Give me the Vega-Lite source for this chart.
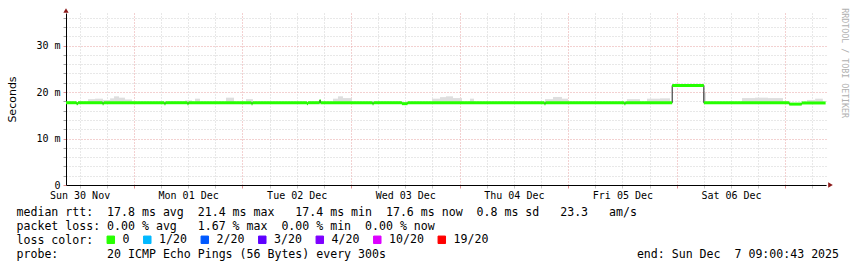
{
  "$schema": "https://vega.github.io/schema/vega-lite/v6.json",
  "width": 760,
  "height": 172,
  "autosize": {"type": "none"},
  "padding": {"left": 66, "top": 13, "right": 31, "bottom": 82},
  "background": "white",
  "config": {
    "view": {"stroke": null},
    "axis": {"labelFont": "DejaVu Sans Mono", "labelFontSize": 10, "labelColor": "#000000", "domainColor": "#000000", "titleColor": "#000000"}
  },
  "title": {
    "text": "RRDTOOL / TOBI OETIKER",
    "orient": "right",
    "anchor": "start",
    "font": "DejaVu Sans Mono",
    "fontSize": 8.3,
    "fontWeight": "normal",
    "color": "#b0b0b0",
    "offset": 2
  },
  "datasets": {
    "segs": [
      {"start": "2025-11-30T09:00:00Z", "end": "2025-11-30T11:20:00Z", "rtt": 17.7, "loss": "0"},
      {"start": "2025-11-30T11:20:00Z", "end": "2025-11-30T11:40:00Z", "rtt": 17.5, "loss": "0"},
      {"start": "2025-11-30T11:40:00Z", "end": "2025-11-30T17:05:00Z", "rtt": 17.7, "loss": "0"},
      {"start": "2025-11-30T17:05:00Z", "end": "2025-11-30T17:20:00Z", "rtt": 17.5, "loss": "0"},
      {"start": "2025-11-30T17:20:00Z", "end": "2025-12-01T06:45:00Z", "rtt": 17.7, "loss": "0"},
      {"start": "2025-12-01T06:45:00Z", "end": "2025-12-01T07:00:00Z", "rtt": 17.5, "loss": "0"},
      {"start": "2025-12-01T07:00:00Z", "end": "2025-12-01T11:50:00Z", "rtt": 17.7, "loss": "0"},
      {"start": "2025-12-01T11:50:00Z", "end": "2025-12-01T12:05:00Z", "rtt": 17.5, "loss": "0"},
      {"start": "2025-12-01T12:05:00Z", "end": "2025-12-02T02:00:00Z", "rtt": 17.7, "loss": "0"},
      {"start": "2025-12-02T02:00:00Z", "end": "2025-12-02T02:15:00Z", "rtt": 17.5, "loss": "0"},
      {"start": "2025-12-02T02:15:00Z", "end": "2025-12-02T14:15:00Z", "rtt": 17.7, "loss": "0"},
      {"start": "2025-12-02T14:15:00Z", "end": "2025-12-02T14:30:00Z", "rtt": 17.5, "loss": "0"},
      {"start": "2025-12-02T14:30:00Z", "end": "2025-12-02T17:05:00Z", "rtt": 17.7, "loss": "0"},
      {"start": "2025-12-02T17:05:00Z", "end": "2025-12-02T17:15:00Z", "rtt": 18.2, "loss": "0"},
      {"start": "2025-12-02T17:15:00Z", "end": "2025-12-03T04:45:00Z", "rtt": 17.7, "loss": "0"},
      {"start": "2025-12-03T04:45:00Z", "end": "2025-12-03T05:00:00Z", "rtt": 17.5, "loss": "0"},
      {"start": "2025-12-03T05:00:00Z", "end": "2025-12-03T11:15:00Z", "rtt": 17.7, "loss": "0"},
      {"start": "2025-12-03T11:15:00Z", "end": "2025-12-03T12:30:00Z", "rtt": 17.5, "loss": "0"},
      {"start": "2025-12-03T12:30:00Z", "end": "2025-12-04T18:45:00Z", "rtt": 17.7, "loss": "0"},
      {"start": "2025-12-04T18:45:00Z", "end": "2025-12-04T19:00:00Z", "rtt": 17.5, "loss": "0"},
      {"start": "2025-12-04T19:00:00Z", "end": "2025-12-05T12:25:00Z", "rtt": 17.7, "loss": "0"},
      {"start": "2025-12-05T12:25:00Z", "end": "2025-12-05T12:40:00Z", "rtt": 17.5, "loss": "0"},
      {"start": "2025-12-05T12:40:00Z", "end": "2025-12-05T23:00:00Z", "rtt": 17.7, "loss": "0"},
      {"start": "2025-12-05T23:00:00Z", "end": "2025-12-06T06:00:00Z", "rtt": 21.4, "loss": "0"},
      {"start": "2025-12-06T06:00:00Z", "end": "2025-12-07T00:53:00Z", "rtt": 17.7, "loss": "0"},
      {"start": "2025-12-07T00:53:00Z", "end": "2025-12-07T03:38:00Z", "rtt": 17.4, "loss": "0"},
      {"start": "2025-12-07T03:38:00Z", "end": "2025-12-07T08:55:00Z", "rtt": 17.65, "loss": "0"}
    ],
    "smoke": [
      {"start": "2025-11-30T13:52:00Z", "end": "2025-11-30T15:25:00Z", "rtt": 17.6, "hi": 18.47},
      {"start": "2025-11-30T15:25:00Z", "end": "2025-11-30T17:11:00Z", "rtt": 17.6, "hi": 18.57},
      {"start": "2025-11-30T17:11:00Z", "end": "2025-11-30T18:44:00Z", "rtt": 17.6, "hi": 18.3},
      {"start": "2025-11-30T18:44:00Z", "end": "2025-11-30T19:37:00Z", "rtt": 17.6, "hi": 18.64},
      {"start": "2025-11-30T19:37:00Z", "end": "2025-11-30T20:43:00Z", "rtt": 17.6, "hi": 19.07},
      {"start": "2025-11-30T20:43:00Z", "end": "2025-11-30T22:02:00Z", "rtt": 17.6, "hi": 18.79},
      {"start": "2025-11-30T22:02:00Z", "end": "2025-11-30T23:35:00Z", "rtt": 17.6, "hi": 18.4},
      {"start": "2025-12-01T11:18:00Z", "end": "2025-12-01T12:51:00Z", "rtt": 17.6, "hi": 18.2},
      {"start": "2025-12-01T13:31:00Z", "end": "2025-12-01T14:37:00Z", "rtt": 17.6, "hi": 18.57},
      {"start": "2025-12-01T20:22:00Z", "end": "2025-12-01T22:08:00Z", "rtt": 17.6, "hi": 18.79},
      {"start": "2025-12-02T00:47:00Z", "end": "2025-12-02T02:20:00Z", "rtt": 17.6, "hi": 18.47},
      {"start": "2025-12-02T20:01:00Z", "end": "2025-12-02T21:07:00Z", "rtt": 17.6, "hi": 18.57},
      {"start": "2025-12-02T21:07:00Z", "end": "2025-12-02T22:14:00Z", "rtt": 17.6, "hi": 19.07},
      {"start": "2025-12-02T22:14:00Z", "end": "2025-12-03T00:13:00Z", "rtt": 17.6, "hi": 18.7},
      {"start": "2025-12-03T17:54:00Z", "end": "2025-12-03T19:40:00Z", "rtt": 17.6, "hi": 18.57},
      {"start": "2025-12-03T19:40:00Z", "end": "2025-12-03T21:00:00Z", "rtt": 17.6, "hi": 18.9},
      {"start": "2025-12-03T21:00:00Z", "end": "2025-12-03T22:33:00Z", "rtt": 17.6, "hi": 19.07},
      {"start": "2025-12-03T22:33:00Z", "end": "2025-12-04T00:32:00Z", "rtt": 17.6, "hi": 18.7},
      {"start": "2025-12-04T02:18:00Z", "end": "2025-12-04T03:11:00Z", "rtt": 17.6, "hi": 18.57},
      {"start": "2025-12-04T18:53:00Z", "end": "2025-12-04T20:39:00Z", "rtt": 17.6, "hi": 18.47},
      {"start": "2025-12-04T20:39:00Z", "end": "2025-12-04T22:38:00Z", "rtt": 17.6, "hi": 18.94},
      {"start": "2025-12-04T22:38:00Z", "end": "2025-12-04T23:58:00Z", "rtt": 17.6, "hi": 18.57},
      {"start": "2025-12-05T13:00:00Z", "end": "2025-12-05T15:53:00Z", "rtt": 17.6, "hi": 18.47},
      {"start": "2025-12-05T17:26:00Z", "end": "2025-12-05T20:18:00Z", "rtt": 17.6, "hi": 18.57},
      {"start": "2025-12-05T20:18:00Z", "end": "2025-12-05T22:31:00Z", "rtt": 17.6, "hi": 18.64},
      {"start": "2025-12-06T05:49:00Z", "end": "2025-12-06T06:28:00Z", "rtt": 17.6, "hi": 19.8},
      {"start": "2025-12-06T14:26:00Z", "end": "2025-12-06T17:18:00Z", "rtt": 17.6, "hi": 18.7},
      {"start": "2025-12-06T17:18:00Z", "end": "2025-12-06T20:11:00Z", "rtt": 17.6, "hi": 18.79},
      {"start": "2025-12-06T20:11:00Z", "end": "2025-12-06T23:30:00Z", "rtt": 17.6, "hi": 18.7},
      {"start": "2025-12-07T04:48:00Z", "end": "2025-12-07T06:36:00Z", "rtt": 17.6, "hi": 18.3},
      {"start": "2025-12-07T06:36:00Z", "end": "2025-12-07T08:18:00Z", "rtt": 17.6, "hi": 18.57}
    ]
  },
  "encoding": {
    "x": {
      "field": "start",
      "type": "temporal",
      "scale": {"type": "utc", "domain": [1764493200000, 1765098000000]},
      "axis": {
        "title": [
          "median\u00a0rtt:\u00a0\u00a017.8\u00a0ms\u00a0avg\u00a0\u00a021.4\u00a0ms\u00a0max\u00a0\u00a0\u00a017.4\u00a0ms\u00a0min\u00a0\u00a017.6\u00a0ms\u00a0now\u00a0\u00a00.8\u00a0ms\u00a0sd\u00a0\u00a0\u00a023.3\u00a0\u00a0\u00a0am/s",
          "packet\u00a0loss:\u00a00.00\u00a0%\u00a0avg\u00a0\u00a0\u00a01.67\u00a0%\u00a0max\u00a0\u00a00.00\u00a0%\u00a0min\u00a0\u00a00.00\u00a0%\u00a0now",
          "loss\u00a0color:",
          "probe:\u00a0\u00a0\u00a0\u00a0\u00a0\u00a0\u00a020\u00a0ICMP\u00a0Echo\u00a0Pings\u00a0(56\u00a0Bytes)\u00a0every\u00a0300s\u00a0\u00a0\u00a0\u00a0\u00a0\u00a0\u00a0\u00a0\u00a0\u00a0\u00a0\u00a0\u00a0\u00a0\u00a0\u00a0\u00a0\u00a0\u00a0\u00a0\u00a0\u00a0\u00a0\u00a0\u00a0\u00a0\u00a0\u00a0\u00a0\u00a0\u00a0\u00a0\u00a0\u00a0\u00a0\u00a0end:\u00a0Sun\u00a0Dec\u00a0\u00a07\u00a009:00:43\u00a02025"
        ],
        "titleFont": "DejaVu Sans Mono",
        "titleFontSize": 11.58,
        "titleFontWeight": "normal",
        "titleAlign": "left",
        "titleAnchor": "start",
        "titleBaseline": "alphabetic",
        "titleX": -50,
        "titleY": 30.3,
        "titleLineHeight": 13.95,
        "titleLimit": 2000,
        "values": [
          1764504000000, 1764525600000, 1764547200000, 1764568800000,
          1764590400000, 1764612000000, 1764633600000, 1764655200000,
          1764676800000, 1764698400000, 1764720000000, 1764741600000,
          1764763200000, 1764784800000, 1764806400000, 1764828000000,
          1764849600000, 1764871200000, 1764892800000, 1764914400000,
          1764936000000, 1764957600000, 1764979200000, 1765000800000,
          1765022400000, 1765044000000, 1765065600000, 1765087200000
        ],
        "labelExpr": "utchours(datum.value) == 12 ? utcFormat(datum.value, '%a %d %b') : ''",
        "labelOverlap": false,
        "labelFlush": false,
        "labelPadding": 2.5,
        "tickSize": 3,
        "tickColor": {"condition": {"test": "utchours(datum.value) == 0", "value": "#e09090"}, "value": "#c4c4c4"},
        "grid": true,
        "gridColor": {"condition": {"test": "utchours(datum.value) == 0", "value": "#e6a3a3"}, "value": "#d0d0d0"},
        "gridDash": [1, 2]
      }
    },
    "y": {
      "field": "rtt",
      "type": "quantitative",
      "scale": {"domain": [0, 37], "nice": false, "zero": true},
      "axis": {
        "values": [0, 2, 4, 6, 8, 10, 12, 14, 16, 18, 20, 22, 24, 26, 28, 30, 32, 34, 36],
        "labelExpr": "datum.value == 0 ? '0' : (datum.value % 10 == 0 ? datum.value + ' m' : '')",
        "title": "Seconds",
        "titleFont": "DejaVu Sans",
        "titleFontSize": 11,
        "titleFontWeight": "normal",
        "titleX": -51,
        "titleY": 86,
        "titleAngle": 270,
        "titleBaseline": "alphabetic",
        "titleAlign": "center",
        "grid": true,
        "gridColor": {"condition": {"test": "datum.value % 10 == 0", "value": "#e6a3a3"}, "value": "#d0d0d0"},
        "gridDash": [1, 2],
        "tickSize": 3,
        "tickColor": {"condition": {"test": "datum.value % 10 == 0", "value": "#e09090"}, "value": "#a0a0a0"},
        "labelPadding": 3,
        "labelOverlap": false,
        "labelFlush": false
      }
    }
  },
  "layer": [
    {
      "data": {"name": "smoke"},
      "mark": {"type": "rect", "color": "#dedede"},
      "encoding": {
        "x2": {"field": "end"},
        "y2": {"field": "hi"}
      }
    },
    {
      "data": {"name": "segs"},
      "mark": {"type": "point", "shape": "square", "filled": true, "size": 1, "opacity": 0},
      "encoding": {
        "color": {
          "field": "loss",
          "type": "nominal",
          "scale": {
            "domain": ["0", "1/20", "2/20", "3/20", "4/20", "10/20", "19/20"],
            "range": ["#26ff00", "#00b8ff", "#0059ff", "#5e00ff", "#7e00ff", "#dd00ff", "#ff0000"]
          },
          "legend": {
            "orient": "none",
            "legendX": 39,
            "legendY": 221,
            "direction": "horizontal",
            "title": null,
            "symbolType": "square",
            "symbolSize": 56,
            "symbolOpacity": 1,
            "symbolStrokeColor": "#000000",
            "symbolStrokeWidth": 1,
            "labelFont": "DejaVu Sans Mono",
            "labelFontSize": 11.58,
            "labelColor": "#000000",
            "labelOffset": 6,
            "columnPadding": 11.5,
            "gridAlign": "none",
            "padding": 0,
            "encode": {
              "symbols": {
                "update": {
                  "stroke": {"value": "#000000"},
                  "strokeWidth": {"value": 1}
                }
              }
            }
          }
        }
      }
    },
    {
      "data": {"name": "segs"},
      "mark": {"type": "line", "interpolate": "step-after", "color": "#202020", "strokeWidth": 1}
    },
    {
      "data": {"name": "segs"},
      "mark": {"type": "rule", "strokeWidth": 3, "strokeCap": "butt"},
      "encoding": {
        "x2": {"field": "end"},
        "color": {"field": "loss", "type": "nominal", "legend": null}
      }
    },
    {
      "data": {"values": [{"start": 1764493200000, "rtt": 37}]},
      "mark": {"type": "point", "shape": "triangle-up", "filled": true, "size": 28, "color": "#8b1a1a", "opacity": 1, "yOffset": -2.5}
    },
    {
      "data": {"values": [{"start": 1765098000000, "rtt": 0}]},
      "mark": {"type": "point", "shape": "triangle-right", "filled": true, "size": 28, "color": "#8b1a1a", "opacity": 1, "xOffset": 4.5}
    }
  ]
}
